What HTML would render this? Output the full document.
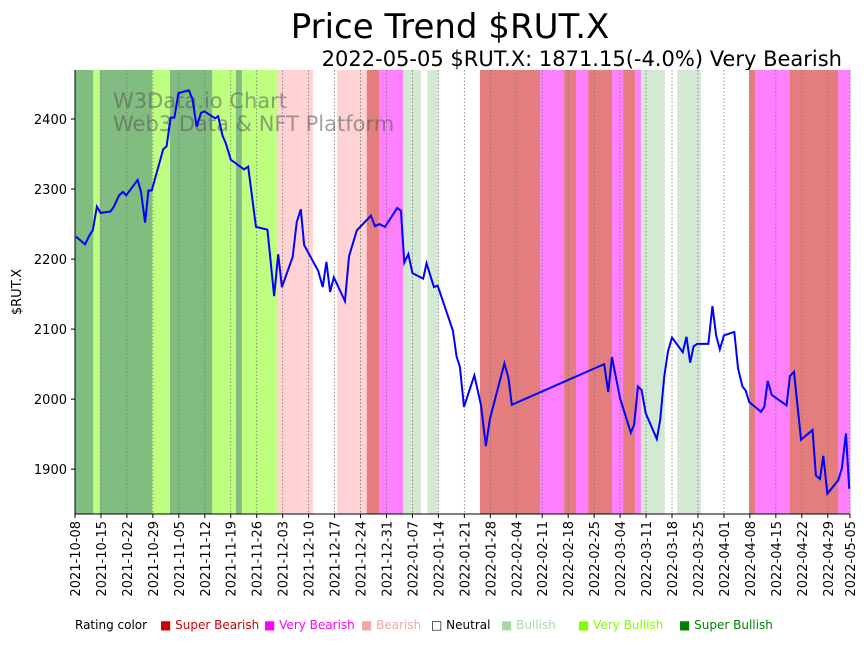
<!DOCTYPE html>
<html><head><meta charset="utf-8"><style>
body{margin:0;background:#fff;font-family:"Liberation Sans","DejaVu Sans",sans-serif}
svg text{font-family:"DejaVu Sans","Liberation Sans",sans-serif}
</style></head><body>
<svg id="chart" width="868" height="641" xmlns="http://www.w3.org/2000/svg">
<text x="450" y="38" font-size="34" text-anchor="middle">Price Trend $RUT.X</text>
<text x="842" y="66" font-size="21" text-anchor="end">2022-05-05 $RUT.X: 1871.15(-4.0%) Very Bearish</text>
<g id="bands"></g>
<g id="grid"></g>
<text x="113" y="108" font-size="21" fill="#555" fill-opacity="0.55">W3Data.io Chart</text>
<text x="113" y="131" font-size="21" fill="#555" fill-opacity="0.55">Web3 Data &amp; NFT Platform</text>
<polyline id="line" fill="none" stroke="#0000ff" stroke-width="2"/>
<g id="axes"></g>
<text transform="translate(21,292) rotate(-90)" font-size="13" text-anchor="middle">$RUT.X</text>
<g id="legend"></g>
</svg>
<script>
const startDate = "2021-10-08";
const totalDays = 209;
const dayOffsets = [0.3,2.7,3.9,4.8,5.9,6.9,9.6,10.5,11.9,12.9,13.8,16.9,17.8,18.9,19.8,20.7,23.8,24.7,25.8,26.8,27.9,30.7,31.7,32.8,34,34.9,37.8,38.6,39.8,40.7,42,45.6,46.7,48.8,51.9,53.7,54.8,55.8,58.7,59.8,60.9,61.8,65.6,66.8,67.8,68.8,69.8,72.8,73.9,76,79.8,80.9,82.1,83.6,86.9,87.9,88.8,89.9,91,93.9,94.8,96.8,97.8,101.9,102.9,103.8,104.9,107.7,109.5,110.8,111.9,115.8,116.9,117.8,142.7,143.8,144.8,147,149.9,150.8,151.8,152.8,153.9,156.9,157.8,158.9,159.9,161,163.9,164.9,165.9,166.8,167.8,170.8,171.9,172.9,173.9,175,177.8,178.8,180,180.9,181.8,185,185.9,186.8,187.9,191.9,192.8,193.9,195.8,198.9,199.8,200.9,201.8,202.9,205.8,206.8,207.9,208.8];
const prices = [2232,2221,2234,2241,2275,2266,2268,2275,2291,2296,2291,2313,2296,2252,2298,2298,2357,2361,2402,2402,2437,2441,2428,2389,2409,2411,2401,2404,2376,2365,2342,2328,2332,2246,2242,2147,2207,2160,2203,2253,2271,2220,2183,2160,2196,2153,2174,2140,2204,2241,2262,2247,2250,2246,2273,2269,2195,2207,2180,2172,2194,2160,2162,2098,2061,2046,1989,2034,1991,1933,1972,2051,2030,1992,2050,2010,2060,2001,1952,1964,2018,2013,1980,1943,1970,2032,2068,2088,2067,2089,2052,2075,2079,2079,2133,2091,2071,2091,2096,2044,2018,2012,1996,1982,1989,2026,2006,1991,2033,2039,1942,1956,1891,1886,1919,1865,1884,1901,1951,1872];
const bandStarts = [0,4.9,6.7,20.8,25.6,37,43.4,45,54.7,64.2,70.7,78.7,82,88.5,93.3,95,98,109.2,125.4,131.9,135.1,138.4,144.8,147.8,151,152.6,159.1,162.4,168.8,181.8,183.4,192.8,205.8];
const bandRatings = ["SB+","VB+","SB+","VB+","SB+","VB+","SB+","VB+","B-","N","B-","SB-","VB-","B+","N","B+","N","SB-","VB-","SB-","VB-","SB-","VB-","SB-","VB-","B+","N","B+","N","SB-","VB-","SB-","VB-"];
const yTicks = [1900,2000,2100,2200,2300,2400];
const xTickLabels = ["2021-10-08","2021-10-15","2021-10-22","2021-10-29","2021-11-05","2021-11-12","2021-11-19","2021-11-26","2021-12-03","2021-12-10","2021-12-17","2021-12-24","2021-12-31","2022-01-07","2022-01-14","2022-01-21","2022-01-28","2022-02-04","2022-02-11","2022-02-18","2022-02-25","2022-03-04","2022-03-11","2022-03-18","2022-03-25","2022-04-01","2022-04-08","2022-04-15","2022-04-22","2022-04-29","2022-05-05"];
const legendLabels = ["Super Bearish","Very Bearish","Bearish","Neutral","Bullish","Very Bullish","Super Bullish"];
const legendColors = ["#cc0000","#ff00ff","#f4a6a6","#ffffff","#a8d8a8","#80ff00","#008000"];

const colorMap={"SB+":"#81bd81","VB+":"#bfff80","B+":"#d4e9d4","N":"#ffffff","B-":"#ffd3d3","VB-":"#ff80ff","SB-":"#e47e7e"};
const X0=75,X1=850,Y0=70,Y1=514,VMIN=1836,VMAX=2470;
const xs=d=>X0+(d/totalDays)*(X1-X0);
const ys=v=>Y1-(v-VMIN)/(VMAX-VMIN)*(Y1-Y0);
const NS="http://www.w3.org/2000/svg";
function mk(t,a,p){const e=document.createElementNS(NS,t);for(const k in a)e.setAttribute(k,a[k]);p.appendChild(e);return e;}
const bands=document.getElementById('bands');
bandStarts.forEach((s,i)=>{const e=i+1<bandStarts.length?bandStarts[i+1]:totalDays;
 const r=mk('rect',{x:xs(s),y:Y0,width:xs(e)-xs(s)+0.3,height:Y1-Y0,fill:colorMap[bandRatings[i]]},bands);
 
 });
const t0=new Date(startDate+"T00:00:00Z");
const dayOf=s=>(new Date(s+"T00:00:00Z")-t0)/86400000;
const grid=document.getElementById('grid'),axes=document.getElementById('axes');
xTickLabels.forEach(l=>{const x=xs(dayOf(l));
 const g=mk('line',{x1:x,x2:x,y1:Y0,y2:Y1,stroke:'#777','stroke-width':0.8,'stroke-dasharray':'1.5,2'},grid);
 
 
 mk('line',{x1:x,x2:x,y1:Y1,y2:Y1+4,stroke:'#000'},axes);
 const t=mk('text',{transform:`translate(${x+5},${Y1+7}) rotate(-90)`,'font-size':13,'text-anchor':'end'},axes);
 t.textContent=l;
 
 });
yTicks.forEach(v=>{const y=ys(v);
 mk('line',{x1:X0-4,x2:X0,y1:y,y2:y,stroke:'#000'},axes);
 const t=mk('text',{x:X0-8,y:y+5,'font-size':13,'text-anchor':'end'},axes);
 t.textContent=v;
 
 });
mk('line',{x1:X0,x2:X0,y1:Y0,y2:Y1,stroke:'#000','stroke-width':1},axes);
mk('line',{x1:X0,x2:X1,y1:Y1,y2:Y1,stroke:'#000','stroke-width':1},axes);
document.getElementById('line').setAttribute('points',dayOffsets.map((d,i)=>xs(d)+','+ys(prices[i])).join(' '));
const leg=document.getElementById('legend');
const lt=mk('text',{x:75,y:629,'font-size':12},leg);lt.textContent='Rating color';


const lx=[160,264,361,431,501,578,679];
const txtCol=["#cc0000","#ff00ff","#f4a6a6","#000","#a8d8a8","#80ff00","#008000"];
legendLabels.forEach((l,i)=>{
 const t=mk('text',{x:lx[i],y:629,'font-size':12,fill:txtCol[i]},leg);
 t.textContent=(i==3?'□ ':'■ ')+l;
 
 });
</script>
</body></html>
